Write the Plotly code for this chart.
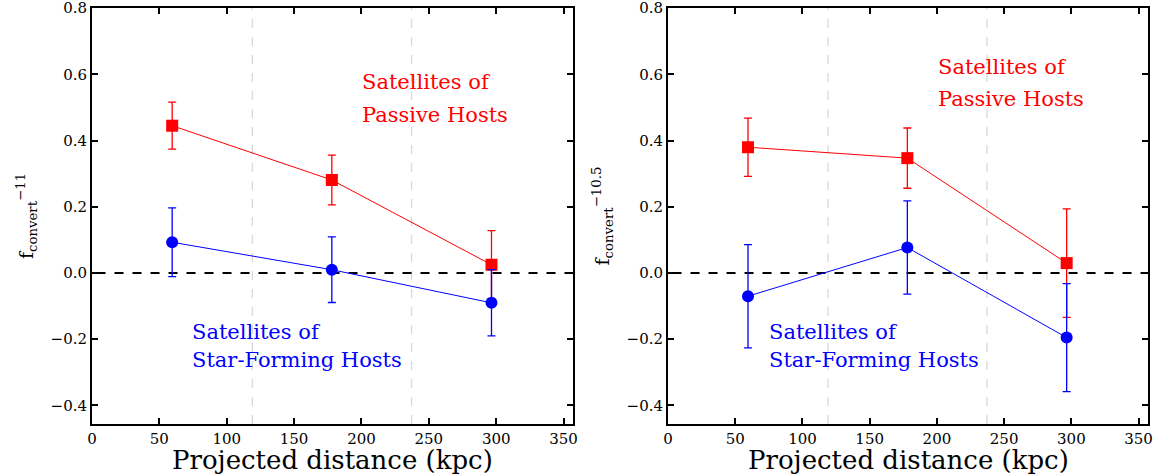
import plotly.graph_objects as go
from plotly.subplots import make_subplots

# ---- data ----
dist = [59.5, 178.0, 296.5]
bin_edges = [119.0, 237.2]

passive_11 = [0.445, 0.281, 0.025]
passive_11_err = [0.071, 0.075, 0.103]
sf_11 = [0.093, 0.010, -0.090]
sf_11_err = [0.104, 0.099, 0.100]

passive_105 = [0.380, 0.347, 0.030]
passive_105_err = [0.088, 0.091, 0.164]
sf_105 = [-0.070, 0.077, -0.195]
sf_105_err = [0.156, 0.141, 0.163]

x_ticks = [0, 50, 100, 150, 200, 250, 300, 350]
y_ticks = [-0.4, -0.2, 0.0, 0.2, 0.4, 0.6, 0.8]
xlabel = "Projected distance (kpc)"
ylabels = ["f<sub>convert</sub><sup>−11</sup>", "f<sub>convert</sub><sup>−10.5</sup>"]

# annotation text lines: (axis suffix, x, y, text, colour)
RED = "#ff0000"
BLUE = "#0000ff"
labels = [
    ("", 198.7, 0.577, "Satellites of", RED),
    ("", 198.7, 0.477, "Passive Hosts", RED),
    ("", 73.0, -0.178, "Satellites of", BLUE),
    ("", 73.0, -0.263, "Star-Forming Hosts", BLUE),
    ("2", 199.6, 0.623, "Satellites of", RED),
    ("2", 199.6, 0.526, "Passive Hosts", RED),
    ("2", 73.6, -0.178, "Satellites of", BLUE),
    ("2", 73.6, -0.263, "Star-Forming Hosts", BLUE),
]

FONT = "DejaVu Serif"
W, H = 1160, 475

fig = make_subplots(rows=1, cols=2)

panels = [
    (passive_11, passive_11_err, sf_11, sf_11_err),
    (passive_105, passive_105_err, sf_105, sf_105_err),
]

for i, (pv, pe, sv, se) in enumerate(panels, start=1):
    for xe in bin_edges:
        fig.add_trace(go.Scatter(x=[xe, xe], y=[-1, 1], mode="lines",
                                 line=dict(color="#d9d9d9", width=1.3, dash="dash"),
                                 hoverinfo="skip", showlegend=False), row=1, col=i)
    fig.add_trace(go.Scatter(x=[-10, 400], y=[0, 0], mode="lines",
                             line=dict(color="black", width=2, dash="dash"),
                             hoverinfo="skip", showlegend=False), row=1, col=i)
    fig.add_trace(go.Scatter(x=dist, y=pv, mode="lines+markers",
                             line=dict(color=RED, width=1),
                             marker=dict(symbol="square", size=12, color=RED),
                             error_y=dict(type="data", array=pe, color=RED, thickness=1.3, width=4),
                             showlegend=False), row=1, col=i)
    fig.add_trace(go.Scatter(x=dist, y=sv, mode="lines+markers",
                             line=dict(color=BLUE, width=1),
                             marker=dict(symbol="circle", size=12, color=BLUE),
                             error_y=dict(type="data", array=se, color=BLUE, thickness=1.3, width=4),
                             showlegend=False), row=1, col=i)

tickfont = dict(family=FONT, size=15, color="black")
axis_common = dict(showline=True, linecolor="black", linewidth=2, mirror="ticks",
                   ticks="inside", ticklen=6, tickwidth=1.5, tickcolor="black",
                   showgrid=False, zeroline=False, tickfont=tickfont,
                   ticklabeloverflow="allow", automargin=False)

fig.update_xaxes(range=[0, 357], tickvals=x_ticks, **axis_common)
fig.update_yaxes(range=[-0.456, 0.8005], tickvals=y_ticks, tickformat=".1f", **axis_common)


def px_x(p):
    return p / W


def px_y(p):
    return 1 - p / H


fig.update_layout(
    xaxis=dict(domain=[px_x(92), px_x(573)]),
    xaxis2=dict(domain=[px_x(668), px_x(1148)]),
    yaxis=dict(domain=[px_y(424), px_y(8)],
               title=dict(text=ylabels[0], font=dict(family=FONT, size=19, color="black"), standoff=12)),
    yaxis2=dict(domain=[px_y(424), px_y(8)],
                title=dict(text=ylabels[1], font=dict(family=FONT, size=19, color="black"), standoff=12)),
    width=W, height=H,
    margin=dict(l=0, r=0, t=0, b=0, autoexpand=False),
    font=dict(family=FONT, color="black"),
    plot_bgcolor="white", paper_bgcolor="white",
)

# x-axis titles
for ax in ["x", "x2"]:
    fig.add_annotation(x=0.5, y=px_y(460), xref=ax + " domain", yref="paper", text=xlabel,
                       showarrow=False, xanchor="center", yanchor="middle",
                       font=dict(family=FONT, size=26, color="black"))

for ax, x, y, txt, col in labels:
    fig.add_annotation(x=x, y=y, xref="x" + ax, yref="y" + ax, text=txt,
                       showarrow=False, xanchor="left", yanchor="middle", align="left",
                       font=dict(family=FONT, size=21, color=col))

fig.write_html("out.html", config={"displayModeBar": False},
               post_script="document.body.style.margin='0';document.body.style.overflow='hidden';")
